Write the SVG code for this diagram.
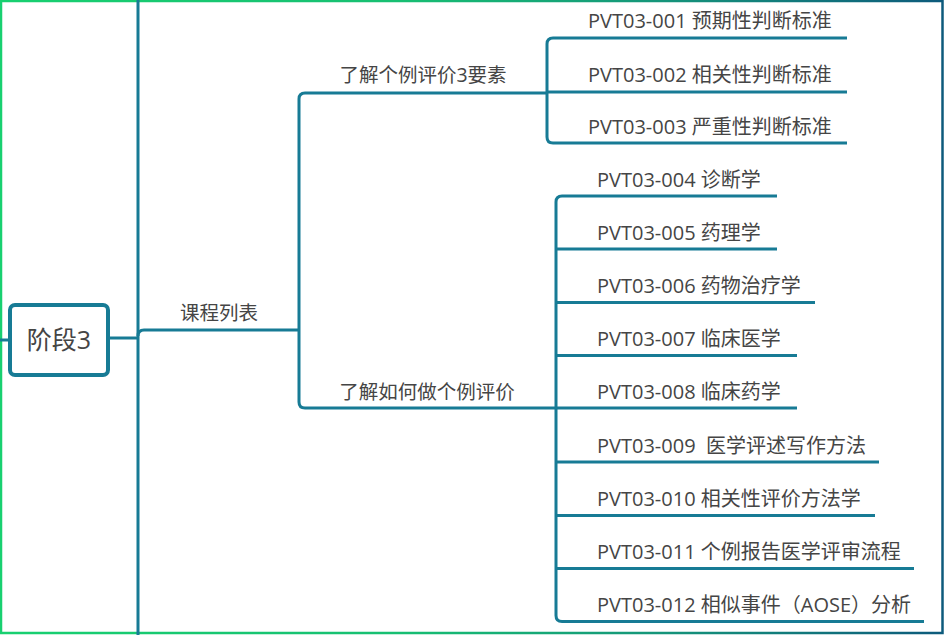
<svg xmlns="http://www.w3.org/2000/svg" width="944" height="635" viewBox="0 0 944 635">
<defs>
<linearGradient id="bd" x1="0" y1="0" x2="944" y2="0" gradientUnits="userSpaceOnUse">
<stop offset="0" stop-color="#18d070"/>
<stop offset="0.42" stop-color="#17bf72"/>
<stop offset="0.7" stop-color="#15957a"/>
<stop offset="1" stop-color="#0d5a7c"/>
</linearGradient>
<style>
.ln{fill:none;stroke:#177b95;stroke-width:3;stroke-linecap:butt;stroke-linejoin:round}
.t{font-family:"Open Sans","Noto Sans CJK SC","Liberation Sans",sans-serif;font-size:19.5px;fill:#454545}
.lf{font-size:20px}
.c{text-anchor:middle}
</style>
</defs>
<rect x="0" y="0" width="944" height="635" fill="#ffffff"/>
<rect x="1" y="1" width="941.5" height="632" fill="none" stroke="url(#bd)" stroke-width="2.5"/>
<g id="connectors">
<path class="ln" d="M138 0 V635"/>
<path class="ln" d="M0 340 H10"/>
<path class="ln" d="M108 338 H138"/>
<path class="ln" d="M138 336 Q138 330 144 330 H299"/>
<path class="ln" d="M299 330 V99 Q299 93 305 93 H547"/>
<path class="ln" d="M299 330 V402 Q299 408 305 408 H556"/>
<path class="ln" d="M547 92 V44 Q547 38 553 38 H847"/>
<path class="ln" d="M547 92 H847"/>
<path class="ln" d="M547 92 V137 Q547 143 553 143 H847"/>
<path class="ln" d="M556 408 V202 Q556 196 562 196 H777"/>
<path class="ln" d="M556 249 H777"/>
<path class="ln" d="M556 302.5 H815"/>
<path class="ln" d="M556 355.5 H797"/>
<path class="ln" d="M556 408 H797"/>
<path class="ln" d="M556 408 V615.5 Q556 621.5 562 621.5 H924"/>
<path class="ln" d="M556 462 H879"/>
<path class="ln" d="M556 515.5 H875"/>
<path class="ln" d="M556 568.5 H914"/>
</g>
<g id="root">
<rect x="10" y="305" width="98" height="70" rx="5" fill="#ffffff" stroke="#177b95" stroke-width="4"/>
<text class="t c" x="59" y="349" style="font-size:25px">阶段3</text>
</g>
<g id="n-course"><text class="t c" x="219" y="320">课程列表</text></g>
<g id="n-g1"><text class="t c" x="423" y="82">了解个例评价3要素</text></g>
<g id="n-g2"><text class="t c" x="427" y="399">了解如何做个例评价</text></g>
<g id="n001"><text class="t lf" x="588" y="28">PVT03-001 预期性判断标准</text></g>
<g id="n002"><text class="t lf" x="588" y="82">PVT03-002 相关性判断标准</text></g>
<g id="n003"><text class="t lf" x="588" y="134">PVT03-003 严重性判断标准</text></g>
<g id="n004"><text class="t lf" x="597" y="187">PVT03-004 诊断学</text></g>
<g id="n005"><text class="t lf" x="597" y="240">PVT03-005 药理学</text></g>
<g id="n006"><text class="t lf" x="597" y="293">PVT03-006 药物治疗学</text></g>
<g id="n007"><text class="t lf" x="597" y="346">PVT03-007 临床医学</text></g>
<g id="n008"><text class="t lf" x="597" y="399">PVT03-008 临床药学</text></g>
<g id="n009"><text class="t lf" x="597" y="453">PVT03-009 &#160;医学评述写作方法</text></g>
<g id="n010"><text class="t lf" x="597" y="506">PVT03-010 相关性评价方法学</text></g>
<g id="n011"><text class="t lf" x="597" y="559">PVT03-011 个例报告医学评审流程</text></g>
<g id="n012"><text class="t lf" x="597" y="612">PVT03-012 相似事件（AOSE）分析</text></g>
</svg>
